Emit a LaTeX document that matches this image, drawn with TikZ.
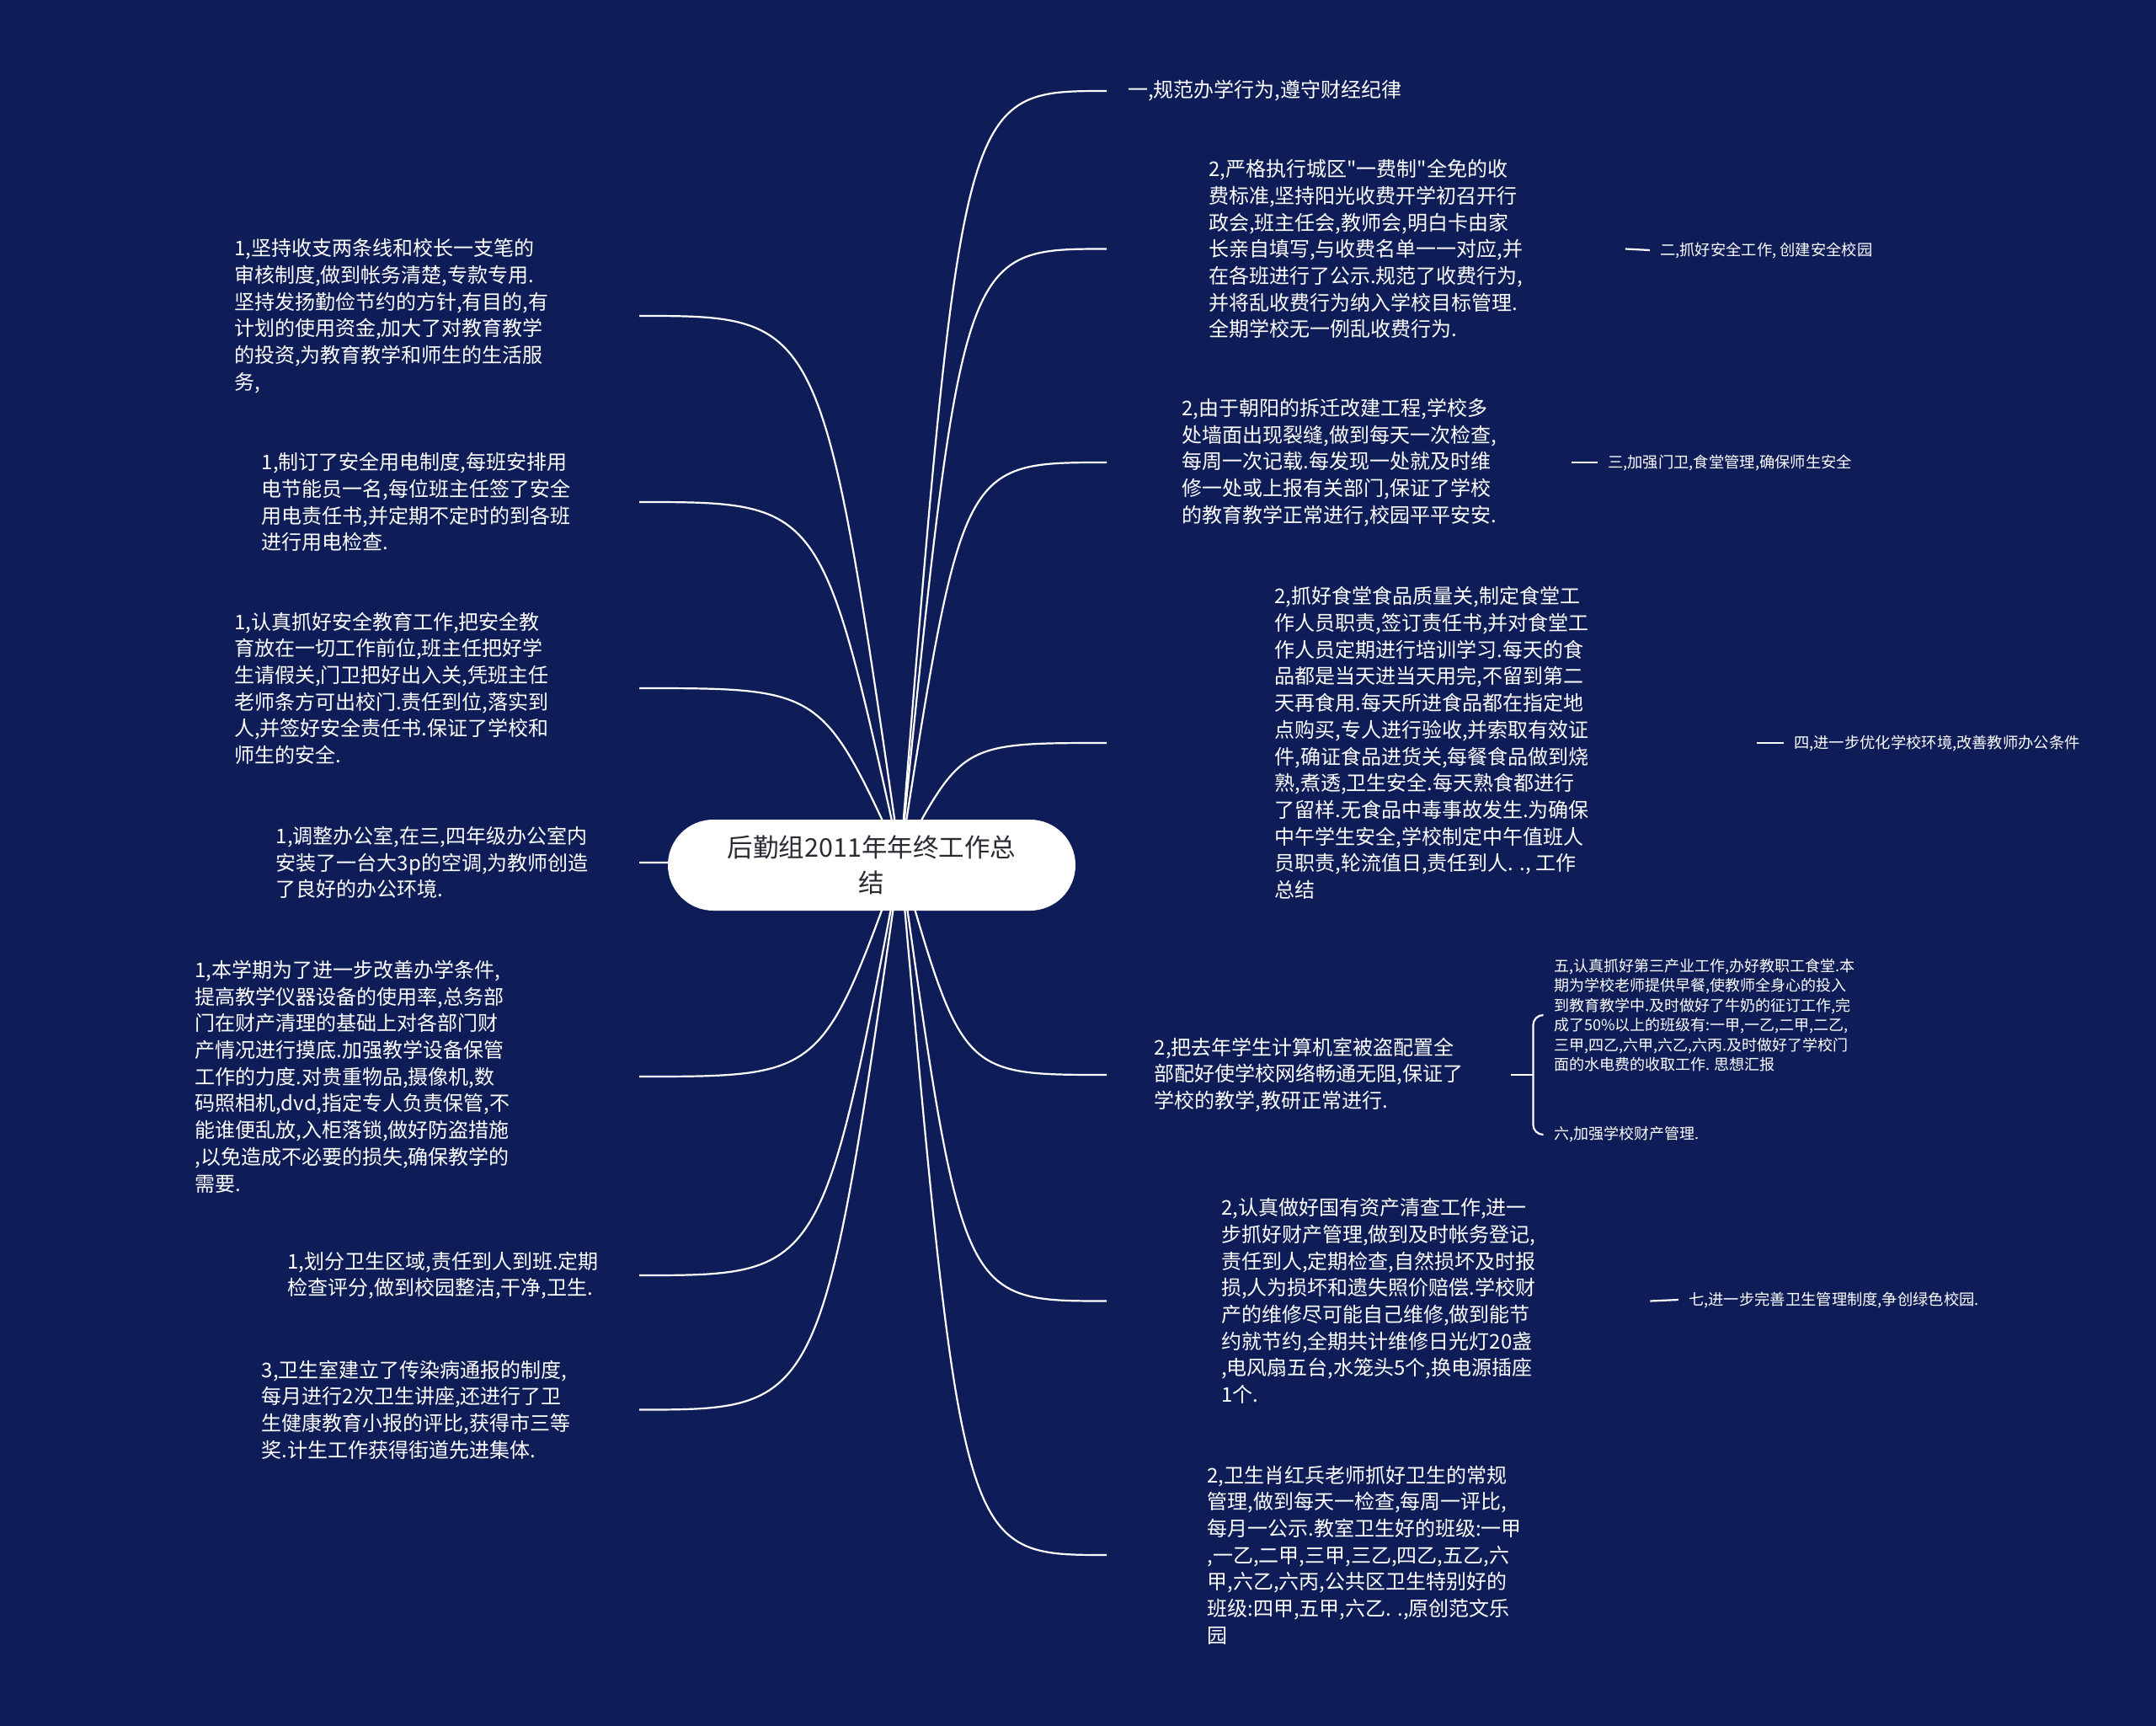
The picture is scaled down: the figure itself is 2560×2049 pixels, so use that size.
\documentclass[tikz,border=0pt]{standalone}
\usepackage{fontspec}
\setmainfont{Noto Sans CJK SC}[Ligatures=TeXOff]
\usetikzlibrary{calc}
\definecolor{bgnavy}{HTML}{0E1D58}
\definecolor{titletext}{HTML}{2A2A33}
\pgfdeclarelayer{bg}
\pgfsetlayers{bg,main}
\tikzset{
  txt/.style={text=white, align=left, inner sep=0pt, font=\fontsize{24}{31.7}\selectfont},
  head/.style={text=white, align=left, inner ysep=0pt, inner xsep=12pt, font=\fontsize{18.3}{23.5}\selectfont},
  conn/.style={draw=white, line width=2.2pt},
  titlebox/.style={fill=white, rounded corners=54pt, minimum width=484pt, minimum height=108pt,
     align=center, text=titletext, inner sep=0pt, font=\fontsize{30.5}{42}\selectfont}
}
\newcommand\mmcurve[2]{\draw[conn] (#1) .. controls ($(#1|-#2)!0.3!(#2)$) .. (#2);}
\begin{document}
\begin{tikzpicture}[x=1pt,y=-1pt]
\useasboundingbox (0,0) rectangle (2560,2049);
\begin{pgfonlayer}{bg}
\fill[bgnavy] (0,0) rectangle (2560,2049);
\end{pgfonlayer}

\node[titlebox] (T) at (1035,1027) {后勤组2011年年终工作总\\结};
\coordinate (O) at (1069,1020);

% right side
\node[txt, anchor=west, inner xsep=25pt] (R1) at (1314,108) {一,规范办学行为,遵守财经纪律};
\node[txt, anchor=west, minimum width=615.5pt] (R2) at (1314,295.5) {2,严格执行城区"一费制"全免的收\\费标准,坚持阳光收费开学初召开行\\政会,班主任会,教师会,明白卡由家\\长亲自填写,与收费名单一一对应,并\\在各班进行了公示.规范了收费行为,\\并将乱收费行为纳入学校目标管理.\\全期学校无一例乱收费行为.};
\node[txt, anchor=west, minimum width=552pt] (R3) at (1314,549) {2,由于朝阳的拆迁改建工程,学校多\\处墙面出现裂缝,做到每天一次检查,\\每周一次记载.每发现一处就及时维\\修一处或上报有关部门,保证了学校\\的教育教学正常进行,校园平平安安.};
\node[txt, anchor=west, minimum width=772pt] (R4) at (1314,882) {2,抓好食堂食品质量关,制定食堂工\\作人员职责,签订责任书,并对食堂工\\作人员定期进行培训学习.每天的食\\品都是当天进当天用完,不留到第二\\天再食用.每天所进食品都在指定地\\点购买,专人进行验收,并索取有效证\\件,确证食品进货关,每餐食品做到烧\\熟,煮透,卫生安全.每天熟食都进行\\了留样.无食品中毒事故发生.为确保\\中午学生安全,学校制定中午值班人\\员职责,轮流值日,责任到人. ., 工作\\总结};
\node[txt, anchor=west, minimum width=480pt] (R5) at (1314,1276) {2,把去年学生计算机室被盗配置全\\部配好使学校网络畅通无阻,保证了\\学校的教学,教研正常进行.};
\node[txt, anchor=west, minimum width=645pt] (R6) at (1314,1544.5) {2,认真做好国有资产清查工作,进一\\步抓好财产管理,做到及时帐务登记,\\责任到人,定期检查,自然损坏及时报\\损,人为损坏和遗失照价赔偿.学校财\\产的维修尽可能自己维修,做到能节\\约就节约,全期共计维修日光灯20盏\\,电风扇五台,水笼头5个,换电源插座\\1个.};
\node[txt, anchor=west, minimum width=612pt] (R7) at (1314,1846) {2,卫生肖红兵老师抓好卫生的常规\\管理,做到每天一检查,每周一评比,\\每月一公示.教室卫生好的班级:一甲\\,一乙,二甲,三甲,三乙,四乙,五乙,六\\甲,六乙,六丙,公共区卫生特别好的\\班级:四甲,五甲,六乙. .,原创范文乐\\园};

% headings
\node[head, anchor=west] (H2) at (1959,297) {二,抓好安全工作, 创建安全校园};
\node[head, anchor=west] (H3) at (1897,549) {三,加强门卫,食堂管理,确保师生安全};
\node[head, anchor=west] (H4) at (2118,882) {四,进一步优化学校环境,改善教师办公条件};
\node[head, anchor=west] (H6) at (1993,1543) {七,进一步完善卫生管理制度,争创绿色校园.};
\coordinate (J) at ($(R5.east)+(26,0)$);
\node[head, anchor=west, inner xsep=13pt, font=\fontsize{18}{23.5}\selectfont] (H5a) at (1832,1205) {五,认真抓好第三产业工作,办好教职工食堂.本\\期为学校老师提供早餐,使教师全身心的投入\\到教育教学中.及时做好了牛奶的征订工作,完\\成了50\%以上的班级有:一甲,一乙,二甲,二乙,\\三甲,四乙,六甲,六乙,六丙.及时做好了学校门\\面的水电费的收取工作. 思想汇报};
\node[head, anchor=west, inner xsep=13pt, font=\fontsize{18}{23.5}\selectfont] (H5b) at (1832,1347) {六,加强学校财产管理.};

% left side
\node[txt, anchor=east, minimum width=588pt] (L1) at (759,375) {1,坚持收支两条线和校长一支笔的\\审核制度,做到帐务清楚,专款专用.\\坚持发扬勤俭节约的方针,有目的,有\\计划的使用资金,加大了对教育教学\\的投资,为教育教学和师生的生活服\\务,};
\node[txt, anchor=east, minimum width=529pt] (L2) at (759,596) {1,制订了安全用电制度,每班安排用\\电节能员一名,每位班主任签了安全\\用电责任书,并定期不定时的到各班\\进行用电检查.};
\node[txt, anchor=east, minimum width=588pt] (L3) at (759,817) {1,认真抓好安全教育工作,把安全教\\育放在一切工作前位,班主任把好学\\生请假关,门卫把好出入关,凭班主任\\老师条方可出校门.责任到位,落实到\\人,并签好安全责任书.保证了学校和\\师生的安全.};
\node[txt, anchor=east, minimum width=491pt] (L4) at (759,1024) {1,调整办公室,在三,四年级办公室内\\安装了一台大3p的空调,为教师创造\\了良好的办公环境.};
\node[txt, anchor=east, minimum width=681pt] (L5) at (759,1278) {1,本学期为了进一步改善办学条件,\\提高教学仪器设备的使用率,总务部\\门在财产清理的基础上对各部门财\\产情况进行摸底.加强教学设备保管\\工作的力度.对贵重物品,摄像机,数\\码照相机,dvd,指定专人负责保管,不\\能谁便乱放,入柜落锁,做好防盗措施\\,以免造成不必要的损失,确保教学的\\需要.};
\node[txt, anchor=east, minimum width=465pt] (L6) at (759,1514) {1,划分卫生区域,责任到人到班.定期\\检查评分,做到校园整洁,干净,卫生.};
\node[txt, anchor=east, minimum width=529pt] (L7) at (759,1673.5) {3,卫生室建立了传染病通报的制度,\\每月进行2次卫生讲座,还进行了卫\\生健康教育小报的评比,获得市三等\\奖.计生工作获得街道先进集体.};

\begin{pgfonlayer}{bg}
\mmcurve{O}{R1.west}
\mmcurve{O}{R2.west}
\mmcurve{O}{R3.west}
\mmcurve{O}{R4.west}
\mmcurve{O}{R5.west}
\mmcurve{O}{R6.west}
\mmcurve{O}{R7.west}
\mmcurve{O}{L1.east}
\mmcurve{O}{L2.east}
\mmcurve{O}{L3.east}
\mmcurve{O}{L4.east}
\mmcurve{O}{L5.east}
\mmcurve{O}{L6.east}
\mmcurve{O}{L7.east}
\end{pgfonlayer}
\draw[conn] (R2.east) -- (H2.west);
\draw[conn] (R3.east) -- (H3.west);
\draw[conn] (R4.east) -- (H4.west);
\draw[conn] (R6.east) -- (H6.west);
\draw[conn] (R5.east) -- (J);
\draw[conn, rounded corners=12pt] (J) |- (H5a.west);
\draw[conn, rounded corners=12pt] (J) |- (H5b.west);
\end{tikzpicture}
\end{document}
